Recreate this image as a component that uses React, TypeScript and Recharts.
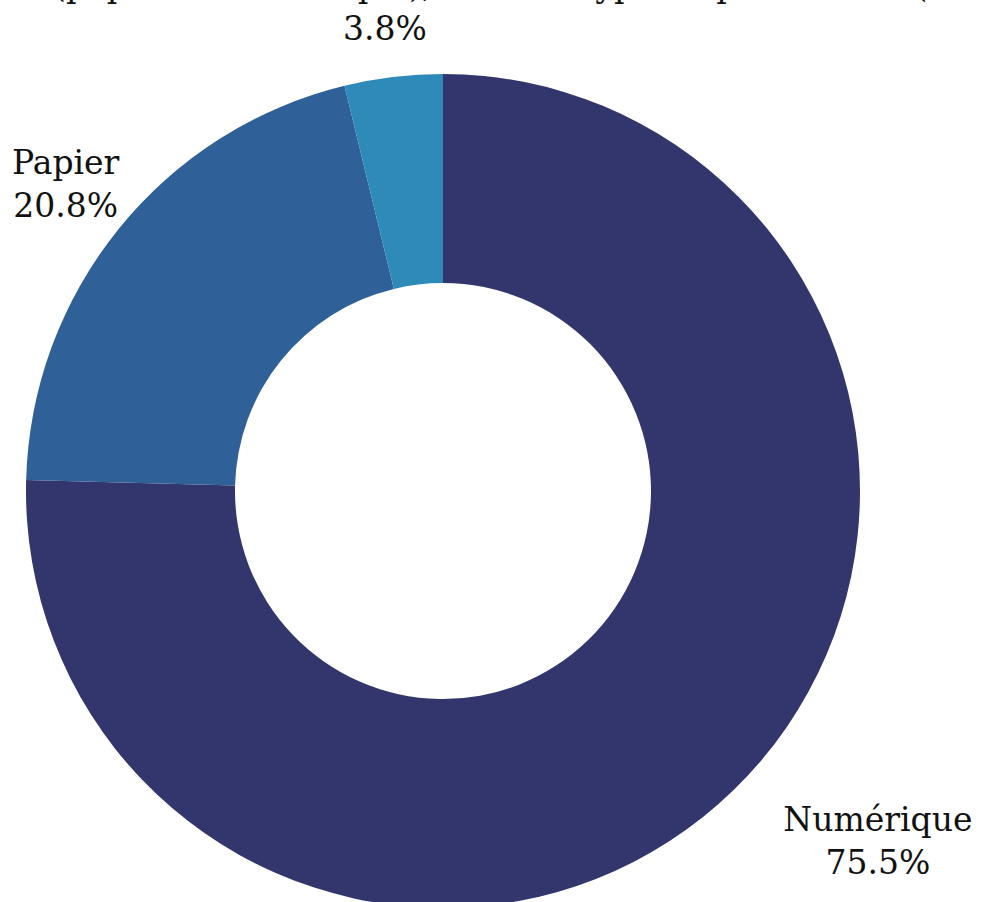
import { PieChart, Pie, Cell } from 'recharts'

const labels = ['Numérique', 'Papier', 'Les deux supports (papier et numérique), selon le type de publication (mixte)']
const shares = [75.5, 20.8, 3.8]
const colors = ['#33366D', '#2F6098', '#2E8AB9']

const data = labels.map((name, i) => ({ name, value: shares[i] }))

const W = 982
const H = 902
const FONT = '"DejaVu Serif", serif'
const FS = 33
const LINE = 43

let ctx: CanvasRenderingContext2D | null = null
function textWidth(s: string) {
  if (!ctx) ctx = document.createElement('canvas').getContext('2d')
  if (!ctx) return s.length * FS * 0.58
  ctx.font = `${FS}px ${FONT}`
  return ctx.measureText(s).width
}

const RAD = Math.PI / 180

function renderLabel(props: any) {
  const { cx, cy, midAngle, outerRadius, name, value } = props
  const r = outerRadius * 1.17
  const cos = Math.cos(-midAngle * RAD)
  const sin = Math.sin(-midAngle * RAD)
  const px = cx + r * cos
  const py = cy + r * sin
  const lines = [name, `${value.toFixed(1)}%`]
  const w = Math.max(...lines.map(textWidth))
  const half = w / 2
  let x = px
  if (cos > 0.2) x = px + half
  else if (cos < -0.2) x = px - half
  if (w < W - 24) x = Math.min(Math.max(x, 12 + half), W - 4 - half)
  return (
    <text x={x} y={py} textAnchor="middle" fontFamily={FONT} fontSize={FS} fill="#111">
      {lines.map((l, i) => (
        <tspan key={i} x={x} y={py + (i - 0.5) * LINE} dominantBaseline="central">{l}</tspan>
      ))}
    </text>
  )
}

export default function App() {
  return (
    <div style={{ position: 'absolute', left: 0, top: 0, width: W, height: H, background: '#fff' }}>
      <PieChart width={W} height={H} margin={{ top: 0, right: 0, bottom: 0, left: 0 }}>
        <Pie
          data={data}
          dataKey="value"
          nameKey="name"
          cx={443}
          cy={491}
          innerRadius={208}
          outerRadius={417}
          startAngle={90}
          endAngle={-270}
          stroke="none"
          label={renderLabel}
          labelLine={false}
          isAnimationActive={false}
        >
          {data.map((d, i) => <Cell key={d.name} fill={colors[i]} />)}
        </Pie>
      </PieChart>
    </div>
  )
}
